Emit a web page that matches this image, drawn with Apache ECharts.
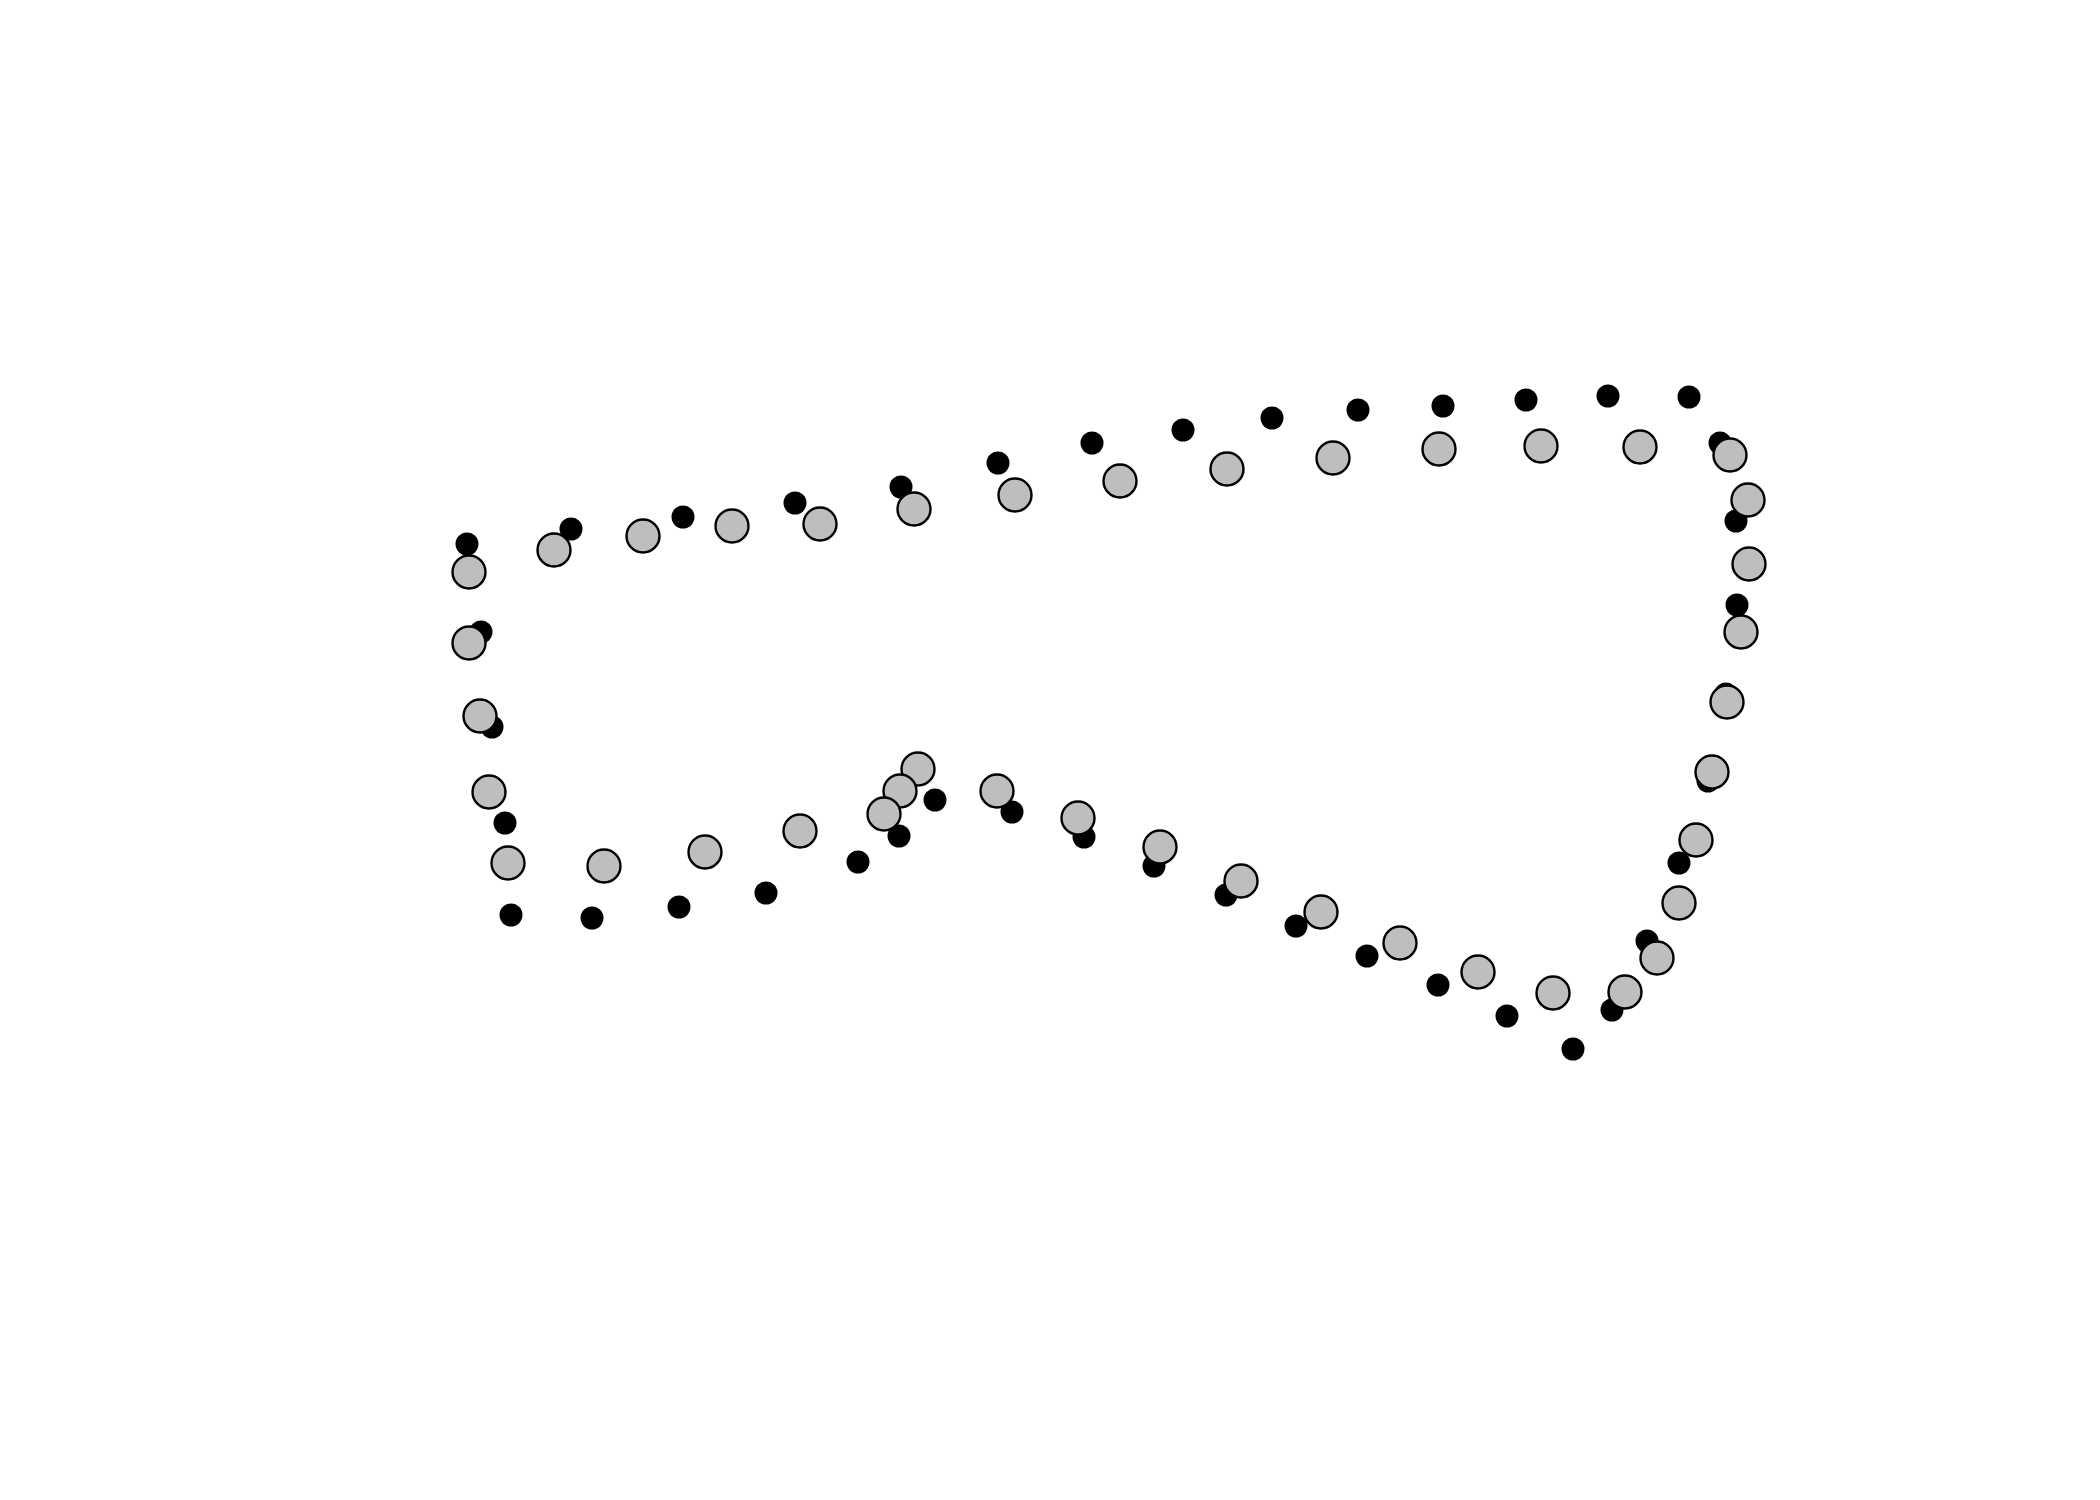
<!DOCTYPE html>
<html>
<head>
<meta charset="utf-8">
<script src="https://cdn.jsdelivr.net/npm/echarts@6/dist/echarts.min.js"></script>
<style>html,body{margin:0;padding:0;background:#fff}#c{width:2100px;height:1500px}</style>
</head>
<body>
<div id="c"></div>
<script>
// Black (filled) points
const blackX = [0.67,0.81,0.92,1.05,1.11,1.92,2.79,3.66,4.58,4.99,5.35,6.12,6.84,7.54,8.26,8.96,9.67,10.38,11.07,11.73,12.12,12.47,12.79,13.08,13.26,13.37,13.36,13.20,12.89,12.08,11.26,10.43,9.58,8.72,7.83,6.92,5.98,5.01,3.95,2.83,1.71];
const blackY = [5.56,4.68,3.73,2.77,1.85,1.82,1.93,2.07,2.38,2.64,3.00,2.88,2.63,2.34,2.05,1.74,1.44,1.15,0.84,0.51,0.90,1.59,2.37,3.19,4.06,4.95,5.79,6.57,7.03,7.04,7.00,6.94,6.90,6.82,6.70,6.57,6.37,6.13,5.97,5.83,5.71];
// Gray (open, filled gray) points
const grayX = [0.69,1.54,2.43,3.32,4.20,5.14,6.15,7.20,8.27,9.33,10.39,11.41,12.40,13.30,13.48,13.49,13.41,13.27,13.12,12.96,12.79,12.57,12.25,11.53,10.78,10.00,9.21,8.41,7.60,6.78,5.97,5.18,5.00,4.84,4.00,3.05,2.04,1.08,0.89,0.80,0.69];
const grayY = [5.28,5.50,5.64,5.74,5.76,5.91,6.05,6.19,6.31,6.42,6.51,6.54,6.53,6.45,6.00,5.36,4.68,3.98,3.28,2.60,1.97,1.42,1.08,1.07,1.28,1.57,1.88,2.19,2.53,2.82,3.09,3.31,3.09,2.86,2.69,2.48,2.34,2.37,3.08,3.84,4.57];

const blackData = blackX.map((x, i) => [x, blackY[i]]);
const grayData = grayX.map((x, i) => [x, grayY[i]]);

const chart = echarts.init(document.getElementById('c'), null, {renderer: 'canvas'});
chart.setOption({
  animation: false,
  backgroundColor: '#ffffff',
  grid: {left: 400, right: 300, top: 350, bottom: 400},
  xAxis: {type: 'value', min: 0, max: 14, show: false, splitLine: {show: false}},
  yAxis: {type: 'value', min: 0, max: 7.5, show: false, splitLine: {show: false}},
  series: [
    {
      type: 'scatter', data: blackData, symbol: 'circle', symbolSize: 23,
      itemStyle: {color: '#000000', opacity: 1}
    },
    {
      type: 'scatter', data: grayData, symbol: 'circle', symbolSize: 33,
      itemStyle: {color: '#bebebe', borderColor: '#000000', borderWidth: 2.4, opacity: 1}
    }
  ]
});
</script>
</body>
</html>
